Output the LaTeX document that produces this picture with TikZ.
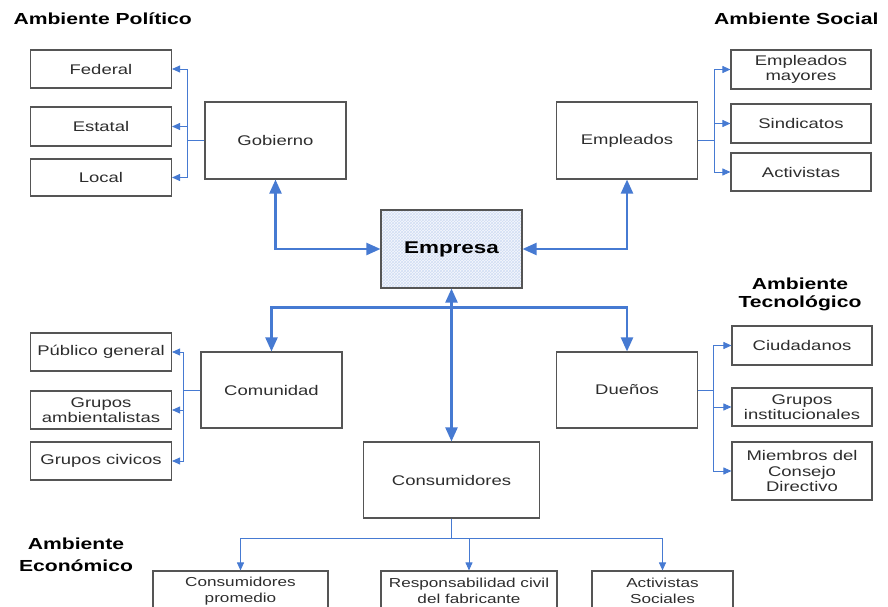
\documentclass[tikz,border=0pt]{standalone}
\usepackage{fontspec}
\setmainfont{Liberation Sans}[FakeStretch=1.32]
\usepackage{xcolor}
\usetikzlibrary{arrows.meta,patterns}
\definecolor{azul}{RGB}{70,122,210}
\definecolor{borde}{RGB}{85,85,85}
\definecolor{texto}{RGB}{45,45,45}

\begin{document}
\begin{tikzpicture}[x=1pt,y=-1pt,
    caja/.style={draw=borde,line width=1.1pt,text=texto,align=center,inner sep=1pt,
      minimum width=141pt,font=\fontsize{14}{15.5}\selectfont},
    grande/.style={caja,minimum height=77pt},
    abajo/.style={caja,minimum height=40pt,font=\fontsize{13}{15.5}\selectfont},
    titulo/.style={align=center,font=\fontsize{16}{18}\selectfont\bfseries},
    puntita/.tip={Triangle[length=8pt,width=7pt]},
    punta/.tip={Triangle[length=14pt,width=12pt]},
    rama/.style={draw=azul,line width=0.9pt,-puntita},
    flecha/.style={draw=azul,line width=2.2pt,punta-punta},
    flechauna/.style={draw=azul,line width=2.2pt,-punta}]
    \clip (0,0) rectangle (888,607);

    % titulos
    \node [titulo,anchor=base west] (politico) at (10,25) {Ambiente Político};
    \node [titulo,anchor=base east] (social) at (882,25) {Ambiente Social};
    \node [titulo] (tecnologico) at (800,294) {Ambiente\\Tecnológico};
    \node [titulo,font=\fontsize{16}{22}\selectfont\bfseries] (economico) at (76,555) {Ambiente\\Económico};

    % cajas
    \node [caja,minimum height=38pt] (federal) at (101,69) {Federal};
    \node [caja,minimum height=39pt] (estatal) at (101,126.5) {Estatal};
    \node [caja,minimum height=37pt] (local) at (101,177.5) {Local};
    \node [grande] (gobierno) at (275.5,140.5) {Gobierno};
    \node [grande] (empleados) at (627,140.5) {Empleados};
    \node [caja,minimum width=140pt,minimum height=39pt] (mayores) at (801,69.5) {Empleados\\mayores};
    \node [caja,minimum width=140pt,minimum height=39pt] (sindicatos) at (801,123.5) {Sindicatos};
    \node [caja,minimum width=140pt,minimum height=38pt] (activistas) at (801,172) {Activistas};
    \node [grande,minimum height=78pt,preaction={fill=azul!5},pattern=crosshatch,pattern color=azul!25,
      text=black,font=\fontsize{17}{19}\selectfont\bfseries] (empresa) at (451.5,249) {Empresa};
    \node [caja,minimum height=76pt] (comunidad) at (271.5,390) {Comunidad};
    \node [caja,minimum height=38pt] (publico) at (101,352) {Público general};
    \node [caja,minimum height=38pt] (ambientalistas) at (101,410) {Grupos\\ambientalistas};
    \node [caja,minimum height=38pt] (civicos) at (101,461) {Grupos civicos};
    \node [caja,minimum height=76pt] (duenos) at (627,390) {Dueños};
    \node [caja,minimum width=140pt,minimum height=39pt] (ciudadanos) at (802,345.5) {Ciudadanos};
    \node [caja,minimum width=140pt,minimum height=38pt] (institucionales) at (802,407) {Grupos\\institucionales};
    \node [caja,minimum width=140pt,minimum height=58pt] (miembros) at (802,471) {Miembros del\\Consejo\\Directivo};
    \node [caja,minimum width=176pt,minimum height=76pt] (consumidores) at (451.5,480) {Consumidores};
    \node [abajo,minimum width=175pt] (promedio) at (240.5,591) {Consumidores\\promedio};
    \node [abajo,minimum width=176pt] (fabricante) at (469,591) {Responsabilidad civil\\del fabricante};
    \node [abajo] (sociales) at (662.5,591) {Activistas\\Sociales};

    % ramas
    \foreach \b in {federal,estatal,local}
      \draw [rama] (gobierno.west) -- ++(-17,0) |- (\b.east);
    \foreach \b in {mayores,sindicatos,activistas}
      \draw [rama] (empleados.east) -- ++(16,0) |- (\b.west);
    \foreach \b in {publico,ambientalistas,civicos}
      \draw [rama] (comunidad.west) -- ++(-17,0) |- (\b.east);
    \foreach \b in {ciudadanos,institucionales,miembros}
      \draw [rama] (duenos.east) -- ++(15,0) |- (\b.west);
    \foreach \b in {promedio,fabricante,sociales}
      \draw [rama] (consumidores.south) -- ++(0,20) -| (\b.north);

    % flechas de la empresa
    \draw [flecha] (gobierno.south) |- (empresa.west);
    \draw [flecha] (empleados.south) |- (empresa.east);
    \draw [flecha] (empresa.south) -- (consumidores.north);
    \draw [flechauna] (empresa.south) ++(0,19) -| (comunidad.north);
    \draw [flechauna] (empresa.south) ++(0,19) -| (duenos.north);
\end{tikzpicture}
\end{document}
